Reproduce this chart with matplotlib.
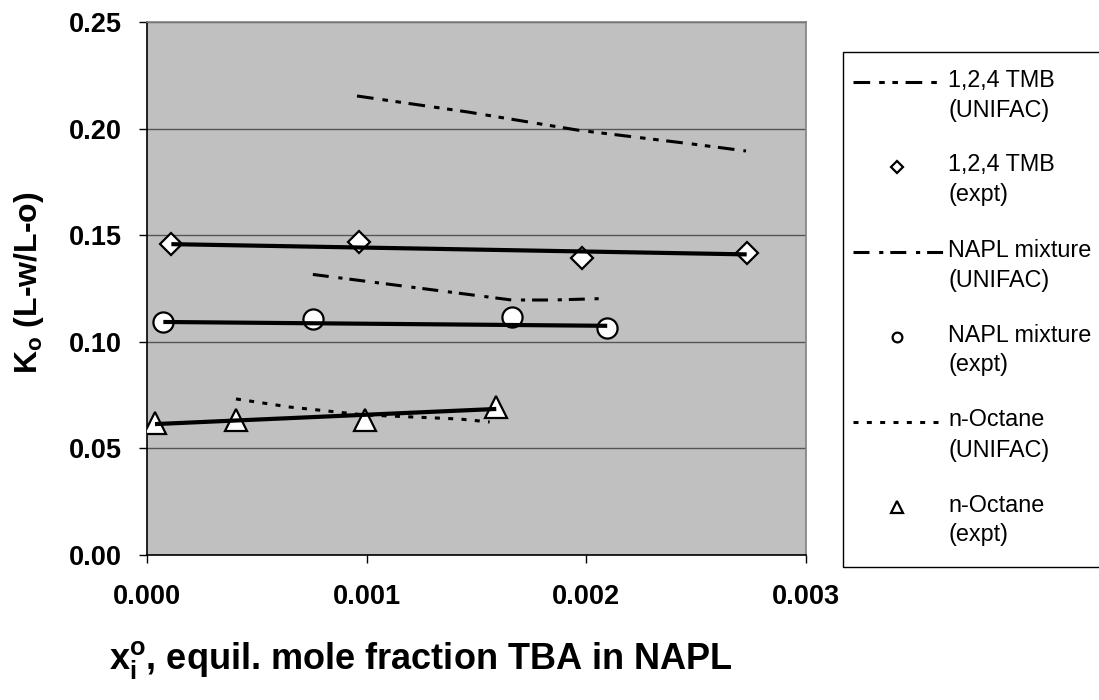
import matplotlib
matplotlib.use("Agg")
import matplotlib.pyplot as plt
from matplotlib.lines import Line2D
from matplotlib.patches import Rectangle

plt.rcParams['font.family'] = ['Liberation Sans', 'DejaVu Sans']
plt.rcParams['mathtext.fontset'] = 'custom'
plt.rcParams['mathtext.rm'] = 'Liberation Sans:bold'
plt.rcParams['mathtext.it'] = 'Liberation Sans:bold'
plt.rcParams['mathtext.bf'] = 'Liberation Sans:bold'
plt.rcParams['lines.scale_dashes'] = False

# ---- data ----
tmb_unifac_x = [0.000956, 0.00146, 0.00196, 0.00248, 0.002727]
tmb_unifac_y = [0.2153, 0.2078, 0.1993, 0.1928, 0.1895]
tmb_expt_x = [0.000111, 0.000963, 0.001978, 0.00273]
tmb_expt_y = [0.1460, 0.1470, 0.1395, 0.1417]
tmb_fit_x = [0.000111, 0.00273]
tmb_fit_y = [0.1458, 0.1410]

napl_unifac_x = [0.000755, 0.00166, 0.00185, 0.00208]
napl_unifac_y = [0.1316, 0.1196, 0.1196, 0.1203]
napl_expt_x = [0.0000744, 0.000756, 0.00166, 0.002095]
napl_expt_y = [0.1093, 0.1107, 0.1118, 0.1066]
napl_fit_x = [0.0000744, 0.002095]
napl_fit_y = [0.1093, 0.1075]

oct_unifac_x = [0.000405, 0.00065, 0.00099, 0.00142, 0.00156]
oct_unifac_y = [0.0732, 0.0694, 0.0657, 0.0638, 0.0624]
oct_expt_x = [0.0000364, 0.000405, 0.000994, 0.00159]
oct_expt_y = [0.0621, 0.0632, 0.0631, 0.0696]
oct_fit_x = [0.0000364, 0.00159]
oct_fit_y = [0.0614, 0.0685]

x_ticks = [0.0, 0.001, 0.002, 0.003]
x_ticklabels = ['0.000', '0.001', '0.002', '0.003']
y_ticks = [0.0, 0.05, 0.10, 0.15, 0.20, 0.25]
y_ticklabels = ['0.00', '0.05', '0.10', '0.15', '0.20', '0.25']

legend_labels = [('1,2,4 TMB', '(UNIFAC)'), ('1,2,4 TMB', '(expt)'),
                 ('NAPL mixture', '(UNIFAC)'), ('NAPL mixture', '(expt)'),
                 ('n-Octane', '(UNIFAC)'), ('n-Octane', '(expt)')]

# ---- styles ----
ls_tmb = (0, (12, 6.5, 4, 5.5, 4, 5.5))
ls_napl = (0, (11.5, 7, 3, 5))
ls_oct = (0, (3.6, 6))

W, H = 1099, 700
def fx(px):
    return px / W
def fy(py):
    return 1 - py / H

fig = plt.figure(figsize=(W/100, H/100), dpi=100)
ax = fig.add_axes([fx(147), fy(555), 659/W, 533/H])
ax.set_facecolor('#C0C0C0')
ax.set_xlim(0, 0.003)
ax.set_ylim(0, 0.25)
ax.set_axisbelow(True)
ax.yaxis.grid(True, color='#555555', linewidth=1.0)

# UNIFAC lines
ax.plot(tmb_unifac_x, tmb_unifac_y, color='black', lw=2.2, linestyle=ls_tmb, zorder=3)
ax.plot(napl_unifac_x, napl_unifac_y, color='black', lw=2.2, linestyle=ls_napl, zorder=3)
ax.plot(oct_unifac_x, oct_unifac_y, color='black', lw=2.2, linestyle=ls_oct, zorder=3)

# trend lines
for tx, ty in [(tmb_fit_x, tmb_fit_y), (napl_fit_x, napl_fit_y), (oct_fit_x, oct_fit_y)]:
    ax.plot(tx, ty, color='black', lw=3.0, solid_capstyle='butt', zorder=5)

# expt markers
ax.plot(tmb_expt_x, tmb_expt_y, linestyle='none', marker='D', ms=11.5,
        mfc='white', mec='black', mew=1.6, zorder=4)
ax.plot(napl_expt_x, napl_expt_y, linestyle='none', marker='o', ms=14.5,
        mfc='white', mec='black', mew=1.6, zorder=4)
ax.plot(oct_expt_x, oct_expt_y, linestyle='none', marker='^', ms=16,
        mfc='white', mec='black', mew=1.6, zorder=4)

ax.set_xticks(x_ticks)
ax.set_xticklabels(x_ticklabels)
ax.set_yticks(y_ticks)
ax.set_yticklabels(y_ticklabels)
ax.tick_params(axis='both', direction='out', length=6, width=1, color='black',
               labelsize=19.5)
ax.tick_params(axis='x', pad=15)
ax.tick_params(axis='y', pad=12)
for lab in ax.get_xticklabels() + ax.get_yticklabels():
    lab.set_fontweight('bold')

ax.spines['left'].set_color('black')
ax.spines['bottom'].set_color('black')
ax.spines['top'].set_color('#808080')
ax.spines['right'].set_color('#808080')
for s in ax.spines.values():
    s.set_linewidth(1.2)

fig.text(fx(29), fy(283), r'K$_\mathrm{o}$ (L-w/L-o)', rotation=90,
         ha='center', va='center', fontsize=23, fontweight='bold')
fig.text(fx(421), fy(660), r'x$_\mathrm{i}^\mathrm{o}$, equil. mole fraction TBA in NAPL',
         ha='center', va='center', fontsize=26, fontweight='bold')

# ---- manual legend (Excel style: symbol aligned with first text line) ----
box_top, box_bot, box_left = 52, 567, 843
fig.add_artist(Rectangle((fx(box_left), fy(box_bot)), fx(W + 20) - fx(box_left),
                         fy(box_top) - fy(box_bot), transform=fig.transFigure,
                         facecolor='white', edgecolor='black', linewidth=1.0))
first_y = 80
step = 85
line_gap = 30
text_x = 948
handle_specs = [
    dict(kind='line', ls=ls_tmb, x1=938),
    dict(kind='marker', marker='D', ms=6.5),
    dict(kind='line', ls=ls_napl, x1=946),
    dict(kind='marker', marker='o', ms=7),
    dict(kind='line', ls=ls_oct, x1=938),
    dict(kind='marker', marker='^', ms=8.5),
]
for i, ((l1, l2), spec) in enumerate(zip(legend_labels, handle_specs)):
    y1 = first_y + step * i
    if spec['kind'] == 'line':
        fig.add_artist(Line2D([fx(853), fx(spec['x1'])], [fy(y1 + 2), fy(y1 + 2)],
                              transform=fig.transFigure, color='black', lw=2.2,
                              linestyle=spec['ls']))
    else:
        fig.add_artist(Line2D([fx(897)], [fy(y1 + 2)], transform=fig.transFigure,
                              linestyle='none', marker=spec['marker'], ms=spec['ms'],
                              mfc='white', mec='black', mew=1.6))
    fig.text(fx(text_x), fy(y1), l1, ha='left', va='center', fontsize=16.8)
    fig.text(fx(text_x), fy(y1 + line_gap), l2, ha='left', va='center', fontsize=16.8)

fig.savefig('out.png', dpi=100)
